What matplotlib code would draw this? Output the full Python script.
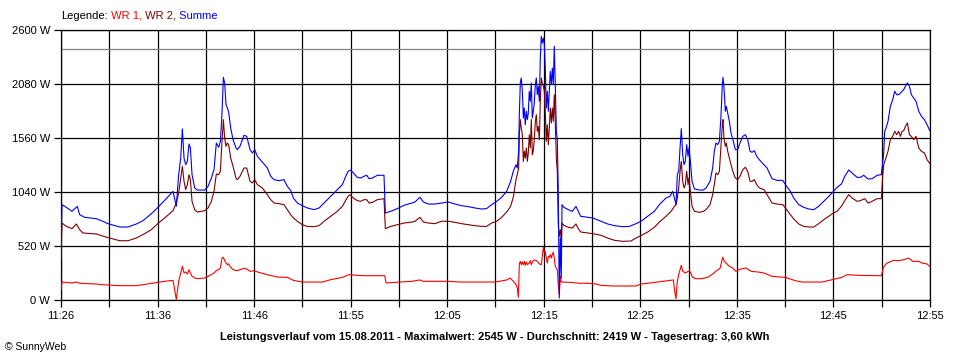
import numpy as np
import matplotlib
matplotlib.use("Agg")
import matplotlib.pyplot as plt

plt.rcParams['font.family'] = ['Liberation Sans', 'DejaVu Sans']

# minutes after 11:26 and power in W
t_wr1 = [0.0, 0.1, 1.13, 1.57, 1.91, 3.62, 4.13, 6.01, 7.72, 8.40,
         9.25, 9.87, 10.62, 11.47, 11.64, 11.81, 12.05, 12.26, 12.43, 12.60,
         12.77, 12.94, 13.11, 13.25, 13.42, 13.69, 13.96, 14.71, 15.06, 15.40,
         15.67, 15.91, 16.15, 16.32, 16.49, 16.63, 16.76, 16.90, 17.04, 17.17,
         17.38, 17.62, 17.92,
         18.06, 18.33, 18.74, 19.02, 19.36, 19.84, 20.11, 21.13, 22.16, 23.18,
         23.80, 24.72, 25.91, 26.77, 27.62, 28.82, 29.50, 30.35, 31.03, 32.40,
         33.15, 33.29, 34.79, 35.95,
         36.76, 37.11, 38.30, 39.67, 40.86, 42.57, 44.45, 45.64, 45.98, 46.32,
         46.60, 46.73, 46.84, 46.94, 47.04, 47.14, 47.25, 47.35, 47.45, 47.55,
         47.66, 47.76, 47.96, 48.06, 48.17, 48.27, 48.37, 48.47, 48.71, 48.99,
         49.19, 49.40, 49.50, 49.60, 49.70, 49.81, 49.91, 50.01, 50.11, 50.22,
         50.32, 50.42, 50.52, 50.62, 50.73, 50.83, 50.93, 51.03, 51.14, 51.24,
         52.13, 53.15, 53.97,
         54.79, 55.31, 56.50, 58.89, 59.40, 60.60, 61.62, 62.71, 62.85, 62.99,
         63.12, 63.26, 63.53, 63.67, 63.94, 64.22, 64.46, 64.69, 65.04, 65.55,
         66.23, 66.74, 67.26, 67.49, 67.77, 67.94, 68.11, 68.45, 68.79, 69.13,
         69.65, 70.16, 70.67, 71.35, 72.00,
         72.82, 74.19, 75.21, 75.90, 77.95, 79.11, 79.99, 80.51, 81.70, 84.02,
         84.23, 84.60, 85.29, 85.80, 86.31, 86.82, 87.23, 87.85, 88.19, 88.70,
         88.97]
p_wr1 = [96, 173, 164, 173, 161, 154, 148, 138, 138, 148,
         161, 170, 180, 189, 100, 3, 180, 260, 324, 260,
         270, 250, 292, 260, 228, 212, 205, 212, 228, 244,
         260, 283, 292, 308, 404, 411, 379, 356, 340, 347,
         315, 292, 283,
         283, 292, 305, 299, 276, 283, 270, 244, 221, 218,
         189, 173, 173, 173, 196, 218, 244, 237, 234, 234,
         234, 164, 173, 180,
         193, 180, 180, 180, 173, 173, 173, 193, 212, 180,
         148, 116, 26, 347, 372, 340, 366, 340, 372, 334,
         366, 340, 356, 379, 340, 366, 379, 385, 379, 347,
         340, 507, 453, 469, 404, 356, 420, 411, 437, 404,
         437, 462, 404, 324, 308, 292, 148, 51, 228, 173,
         170, 161, 161,
         154, 141, 135, 135, 154, 167, 180, 193, 83, 13,
         180, 244, 334, 276, 260, 276, 270, 218, 205, 205,
         218, 250, 292, 302, 411, 372, 356, 324, 308, 276,
         299, 308, 276, 270, 260,
         228, 218, 186, 173, 173, 199, 218, 244, 237, 234,
         315, 356, 382, 379, 388, 404, 372, 372, 356, 347,
         324]

t_wr2 = [0.0, 0.1, 0.55, 1.13, 1.57, 1.91, 2.25, 3.62, 4.47, 6.01,
         6.86, 7.72, 8.57, 9.25, 9.87, 10.62, 11.47, 11.81, 12.05, 12.26,
         12.43, 12.60, 12.77, 12.94, 13.11, 13.25, 13.42, 13.69, 13.96, 14.71,
         15.06, 15.40, 15.67, 15.91, 16.15, 16.32, 16.49, 16.63, 16.76, 16.90,
         17.04, 17.17, 17.38, 17.62, 17.92,
         18.06, 18.33, 18.74, 19.02, 19.36, 19.60, 19.84, 20.11, 20.62, 21.13,
         21.48, 21.82, 22.33, 22.84, 23.18, 23.52, 23.80, 24.21, 24.72, 25.23,
         25.91, 26.43, 26.94, 27.62, 28.30, 28.82, 29.16, 29.40, 29.60, 29.94,
         30.35, 30.69, 31.03, 31.31, 31.55, 31.89, 32.40, 33.08, 33.22, 33.77,
         34.45, 35.13, 35.95,
         36.25, 36.76, 37.11, 37.62, 38.30, 38.98, 39.67, 40.35, 41.03, 41.71,
         42.40, 43.08, 43.59, 44.10, 44.62, 45.13, 45.64, 46.05, 46.32, 46.60,
         46.73, 46.87, 46.94, 47.04, 47.14, 47.25, 47.35, 47.45, 47.55, 47.66,
         47.76, 47.86, 47.96, 48.06, 48.17, 48.27, 48.37, 48.47, 48.58, 48.68,
         48.78, 48.88, 48.99, 49.09, 49.19, 49.29, 49.40, 49.50, 49.60, 49.70,
         49.81, 49.91, 50.01, 50.11, 50.22, 50.32, 50.42, 50.52, 50.62, 50.73,
         50.83, 50.93, 51.03, 51.14, 51.24, 51.31, 51.51, 51.96, 52.37, 52.74,
         52.98, 53.22, 53.97,
         54.45, 55.31, 55.99, 56.67, 57.53, 58.38, 58.89, 59.40, 60.09, 60.77,
         61.28, 61.96, 62.48, 62.82, 62.99, 63.12, 63.26, 63.40, 63.53, 63.67,
         63.81, 63.94, 64.08, 64.22, 64.32, 64.46, 64.63, 64.87, 65.38, 65.79,
         66.06, 66.47, 66.74, 66.91, 67.08, 67.26, 67.43, 67.60, 67.73, 67.80,
         67.90, 68.04, 68.14, 68.28, 68.45, 68.62, 68.86, 69.06, 69.30, 69.54,
         69.82, 70.09, 70.33, 70.57, 70.77, 71.01, 71.25, 71.52, 72.00,
         72.31, 72.82, 73.34, 73.92, 74.19, 74.70, 75.04, 75.56, 76.07, 76.58,
         77.09, 77.60, 78.12, 78.63, 79.11, 79.48, 79.93, 80.27, 80.68, 81.02,
         81.53, 81.87, 82.32, 82.66, 83.07, 83.58, 84.02, 84.16, 84.26, 84.43,
         84.70, 84.94, 85.18, 85.39, 85.59, 85.80, 85.97, 86.14, 86.31, 86.48,
         86.69, 86.89, 87.09, 87.33, 87.57, 87.85, 88.12, 88.43, 88.70, 88.97]
p_wr2 = [385, 741, 709, 687, 732, 677, 645, 636, 610, 571,
         571, 597, 639, 677, 732, 790, 860, 934, 1030, 1175,
         1287, 1143, 1063, 1111, 1207, 1159, 950, 870, 847, 860,
         886, 950, 1046, 1213, 1207, 1239, 1528, 1737, 1560, 1480,
         1512, 1496, 1367, 1287, 1175,
         1159, 1191, 1271, 1271, 1143, 1127, 1159, 1111, 1079, 1014,
         966, 934, 928, 918, 870, 822, 790, 758, 725, 709,
         706, 716, 758, 806, 854, 902, 960, 998, 1014, 982,
         957, 950, 966, 966, 934, 940, 966, 976, 687, 709,
         725, 741, 751,
         758, 796, 751, 741, 735, 758, 758, 748, 735, 725,
         716, 709, 709, 741, 758, 796, 847, 902, 989, 1159,
         1207, 1271, 1592, 1737, 1656, 1592, 1335, 1432, 1367, 1464,
         1335, 1416, 1592, 1464, 1737, 1400, 1432, 1544, 1721, 1785,
         1624, 1672, 1544, 1913, 2138, 2090, 2058, 2010, 1817, 1528,
         1688, 1496, 1656, 1849, 1705, 1849, 1721, 1977, 1721, 1367,
         1239, 725, 613, 677, 565, 741, 719, 700, 693, 732,
         687, 655, 645,
         639, 623, 597, 575, 565, 568, 597, 620, 655, 700,
         751, 806, 854, 902, 918, 982, 1079, 1239, 1335, 1143,
         1079, 1111, 1239, 1111, 1175, 1046, 902, 854, 844, 854,
         870, 918, 1014, 1111, 1223, 1207, 1239, 1496, 1688, 1737,
         1560, 1480, 1512, 1432, 1367, 1303, 1223, 1175, 1159, 1191,
         1255, 1278, 1239, 1143, 1143, 1159, 1111, 1079, 1063,
         1014, 934, 924, 918, 886, 822, 780, 732, 709, 703,
         703, 735, 774, 806, 838, 854, 902, 957, 1014, 982,
         950, 957, 976, 934, 950, 976, 976, 1207, 1303, 1351,
         1432, 1544, 1576, 1624, 1592, 1624, 1576, 1624, 1631, 1672,
         1705, 1592, 1576, 1544, 1576, 1464, 1432, 1416, 1351, 1316]

t_sum = [0.0, 0.1, 0.55, 1.13, 1.67, 1.91, 2.42, 3.62, 4.13, 4.81,
         6.01, 6.86, 7.72, 8.40, 9.25, 9.87, 10.62, 11.47, 11.81, 12.05,
         12.26, 12.43, 12.60, 12.77, 12.94, 13.11, 13.25, 13.42, 13.69, 13.96,
         14.71, 15.06, 15.40, 15.67, 15.91, 16.15, 16.32, 16.49, 16.63, 16.76,
         16.90, 17.04, 17.17, 17.38, 17.62, 17.92,
         18.06, 18.33, 18.74, 19.02, 19.36, 19.60, 19.84, 20.11, 20.62, 21.13,
         21.48, 21.82, 22.33, 22.84, 23.18, 23.52, 23.80, 24.21, 24.72, 25.23,
         25.91, 26.43, 26.94, 27.62, 28.30, 28.82, 29.16, 29.40, 29.67, 29.94,
         30.35, 30.69, 31.03, 31.31, 31.55, 31.89, 32.40, 33.08, 33.22, 33.77,
         34.45, 35.13, 35.95,
         36.25, 36.76, 37.11, 37.62, 38.30, 38.98, 39.67, 40.35, 41.03, 41.71,
         42.40, 43.08, 43.59, 44.10, 44.62, 45.13, 45.64, 46.05, 46.32, 46.60,
         46.73, 46.87, 46.94, 47.04, 47.14, 47.25, 47.35, 47.45, 47.55, 47.66,
         47.76, 47.86, 47.96, 48.06, 48.17, 48.27, 48.37, 48.47, 48.58, 48.68,
         48.78, 48.88, 48.99, 49.09, 49.19, 49.29, 49.40, 49.50, 49.60, 49.70,
         49.81, 49.91, 50.01, 50.11, 50.22, 50.32, 50.42, 50.52, 50.62, 50.73,
         50.83, 50.93, 51.03, 51.14, 51.24, 51.31, 51.51, 51.96, 52.37, 52.74,
         52.98, 53.22, 53.97,
         54.45, 55.31, 55.99, 56.67, 57.53, 58.21, 58.89, 59.40, 60.09, 60.77,
         61.28, 61.96, 62.37, 62.65, 62.82, 62.99, 63.12, 63.26, 63.40, 63.53,
         63.67, 63.81, 63.94, 64.08, 64.22, 64.32, 64.46, 64.63, 64.87, 65.38,
         65.79, 66.06, 66.47, 66.74, 66.91, 67.08, 67.26, 67.43, 67.60, 67.73,
         67.80, 67.90, 68.04, 68.14, 68.28, 68.45, 68.62, 68.86, 69.06, 69.30,
         69.54, 69.82, 70.09, 70.33, 70.57, 70.77, 71.01, 71.25, 71.52, 72.00,
         72.31, 72.82, 73.34, 73.92, 74.19, 74.70, 75.04, 75.56, 76.07, 76.58,
         77.09, 77.60, 78.12, 78.63, 79.11, 79.48, 79.93, 80.27, 80.68, 81.02,
         81.53, 81.87, 82.21, 82.66, 83.07, 83.58, 84.02, 84.26, 84.36, 84.50,
         84.70, 84.94, 85.18, 85.39, 85.59, 85.80, 85.97, 86.14, 86.31, 86.48,
         86.69, 86.89, 87.09, 87.33, 87.57, 87.85, 88.12, 88.43, 88.70, 88.97]
p_sum = [470, 918, 892, 854, 902, 822, 796, 783, 764, 735,
         703, 703, 732, 764, 831, 886, 960, 1046, 902, 1207,
         1367, 1647, 1367, 1303, 1335, 1502, 1464, 1207, 1079, 1059,
         1059, 1094, 1175, 1255, 1512, 1470, 1528, 1801, 2144, 2090,
         1881, 1849, 1810, 1656, 1544, 1464,
         1448, 1480, 1586, 1576, 1448, 1416, 1448, 1384, 1329, 1271,
         1191, 1159, 1149, 1159, 1094, 1056, 982, 934, 908, 886,
         870, 886, 934, 998, 1063, 1111, 1191, 1239, 1252, 1223,
         1181, 1175, 1191, 1201, 1168, 1175, 1201, 1201, 838, 854,
         880, 912, 934,
         944, 989, 944, 924, 924, 934, 944, 924, 908, 899,
         886, 876, 880, 918, 950, 989, 1046, 1143, 1239, 1303,
         1271, 1432, 1785, 2090, 2138, 2010, 1753, 1849, 1688, 1817,
         1737, 1801, 2010, 1913, 2090, 1753, 1817, 1897, 2074, 2138,
         1977, 2058, 1913, 2330, 2539, 2475, 2523, 2459, 2234, 1849,
         2010, 1817, 2010, 2202, 2074, 2234, 2074, 2443, 2090, 1624,
         1544, 1046, 19, 597, 212, 918, 892, 870, 854, 902,
         854, 806, 796,
         790, 758, 732, 716, 706, 709, 735, 758, 806, 854,
         918, 982, 998, 1046, 982, 918, 1207, 1239, 1464, 1650,
         1400, 1303, 1335, 1496, 1384, 1464, 1335, 1143, 1069, 1059,
         1059, 1079, 1143, 1271, 1432, 1512, 1496, 1528, 1785, 2074,
         2144, 2042, 1817, 1865, 1801, 1721, 1608, 1528, 1448, 1448,
         1512, 1576, 1592, 1544, 1432, 1422, 1438, 1384, 1351, 1303,
         1271, 1168, 1152, 1152, 1111, 1046, 982, 918, 892, 876,
         870, 902, 950, 998, 1046, 1085, 1117, 1191, 1252, 1223,
         1181, 1181, 1201, 1165, 1168, 1201, 1207, 1416, 1624, 1656,
         1721, 1865, 1929, 2010, 1977, 1977, 1993, 2010, 2026, 2058,
         2090, 2058, 1977, 1945, 1913, 1817, 1769, 1737, 1688, 1631]

average = 2419
y_ticks = [0, 520, 1040, 1560, 2080, 2600]
x_labels = ["11:26", "11:36", "11:46", "11:55", "12:05",
            "12:15", "12:25", "12:35", "12:45", "12:55"]
span = 89  # minutes shown

fig = plt.figure(figsize=(9.6, 3.6), dpi=100)
ax = fig.add_axes([61 / 960, 60 / 360, 869 / 960, 270 / 360])

x_grid = np.linspace(0, span, 19)
for v in y_ticks:
    ax.axhline(v, color='black', lw=0.9, zorder=1)
for v in x_grid:
    ax.axvline(v, color='black', lw=0.9, zorder=1)
ax.axhline(average, color='#808080', lw=0.9, zorder=1)

ax.plot(t_wr1, p_wr1, color='#ff0000', lw=0.8, zorder=3)
ax.plot(t_wr2, p_wr2, color='#800000', lw=0.8, zorder=3)
ax.plot(t_sum, p_sum, color='#0000ff', lw=0.8, zorder=4)

ax.set_xlim(0, span)
ax.set_ylim(0, 2600)
ax.set_xticks(x_grid)
ax.set_xticklabels([x_labels[i // 2] if i % 2 == 0 else "" for i in range(19)])
ax.set_yticks(y_ticks)
ax.set_yticklabels([f"{v} W" for v in y_ticks])
ax.tick_params(axis='both', length=5, width=0.9, color='black', labelsize=8, pad=3)
for s in ax.spines.values():
    s.set_color('black')
    s.set_linewidth(0.9)

fig.text(495 / 960, 1 - 337 / 360, "Leistungsverlauf vom 15.08.2011 - Maximalwert: 2545 W - "
         "Durchschnitt: 2419 W - Tagesertrag: 3,60 kWh",
         ha='center', va='center', fontsize=8, fontweight='bold')
fig.text(5 / 960, 1 - 347 / 360, "\u00a9 SunnyWeb", ha='left', va='center', fontsize=7.5)

# legend line made of coloured pieces
renderer = fig.canvas.get_renderer()
parts = [("Legende:", 'black'), (" WR 1,", '#ff0000'), (" WR 2,", '#800000'), (" Summe", '#0000ff')]
x = 61 / 960
for txt, col in parts:
    t = fig.text(x, 1 - 16 / 360, txt, color=col, ha='left', va='center', fontsize=8)
    x += t.get_window_extent(renderer=renderer).width / fig.bbox.width

fig.savefig("out.png", dpi=100)
